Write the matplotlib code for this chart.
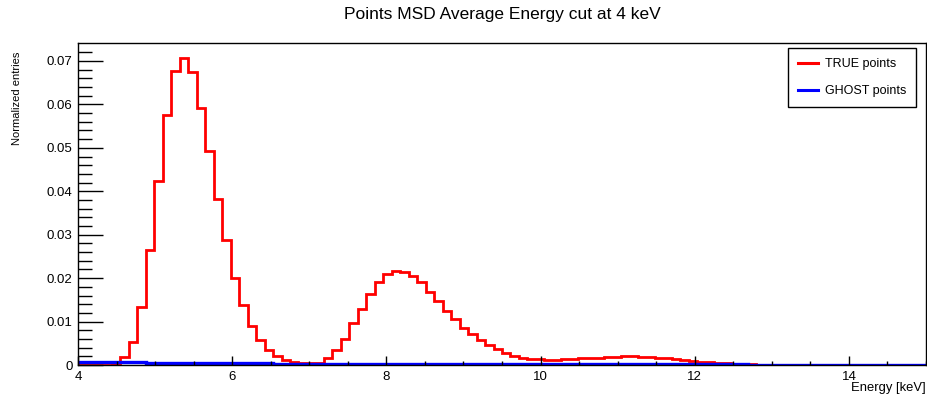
import numpy as np
import matplotlib
matplotlib.use('Agg')
import matplotlib.pyplot as plt
from matplotlib.lines import Line2D

plt.rcParams['font.family'] = ['Liberation Sans', 'DejaVu Sans']

# histogram binning: 100 bins from 4 to 15 keV
e_min, e_max, n_bins = 4.0, 15.0, 100

# TRUE points (normalized entries per bin)
true_vals = [
    0.0, 0.0, 0.0, 0.0001, 0.0003, 0.0018, 0.0053, 0.0134, 0.0264, 0.0424,
    0.0576, 0.0677, 0.0706, 0.0674, 0.0592, 0.0493, 0.0382, 0.0287, 0.0201, 0.0138,
    0.0090, 0.0058, 0.0035, 0.0021, 0.0011, 0.0006, 0.0004, 0.0004, 0.0005, 0.0015,
    0.0034, 0.0061, 0.0096, 0.0130, 0.0164, 0.0190, 0.0209, 0.0216, 0.0214, 0.0206,
    0.0190, 0.0168, 0.0148, 0.0125, 0.0105, 0.0086, 0.0071, 0.0057, 0.0046, 0.0036,
    0.0027, 0.0021, 0.0017, 0.0014, 0.0013, 0.0012, 0.0012, 0.0013, 0.0014, 0.0015,
    0.0016, 0.0017, 0.0018, 0.0019, 0.0020, 0.0020, 0.0019, 0.0018, 0.0017, 0.0015,
    0.0013, 0.0011, 0.0009, 0.0007, 0.0006, 0.0005, 0.0004, 0.0003, 0.0002, 0.0002,
    0.0001, 0.0001, 0.0001, 0.0001, 0.0001, 0.0001, 0.0, 0.0, 0.0, 0.0,
    0.0, 0.0, 0.0, 0.0, 0.0, 0.0, 0.0, 0.0, 0.0, 0.0,
]

# GHOST points
ghost_vals = [
    0.00075, 0.00072, 0.00070, 0.00067, 0.00065, 0.00062, 0.00060, 0.00058, 0.00056, 0.00054,
    0.00052, 0.00050, 0.00048, 0.00047, 0.00045, 0.00044, 0.00042, 0.00041, 0.00040, 0.00038,
    0.00037, 0.00036, 0.00035, 0.00034, 0.00033, 0.00032, 0.00031, 0.00030, 0.00029, 0.00028,
    0.00028, 0.00027, 0.00026, 0.00026, 0.00025, 0.00024, 0.00024, 0.00023, 0.00023, 0.00022,
    0.00022, 0.00021, 0.00021, 0.00020, 0.00020, 0.00020, 0.00019, 0.00019, 0.00019, 0.00018,
    0.00018, 0.00018, 0.00017, 0.00017, 0.00017, 0.00016, 0.00016, 0.00016, 0.00016, 0.00015,
    0.00015, 0.00015, 0.00015, 0.00014, 0.00014, 0.00014, 0.00014, 0.00014, 0.00013, 0.00013,
    0.00013, 0.00013, 0.00013, 0.00012, 0.00012, 0.00012, 0.00012, 0.00012, 0.00012, 0.00011,
    0.00011, 0.00011, 0.00011, 0.00011, 0.00011, 0.00011, 0.00010, 0.00010, 0.00010, 0.00010,
    0.00010, 0.00010, 0.00010, 0.00010, 0.00010, 0.00010, 0.00010, 0.00010, 0.00010, 0.00010,
]

edges = np.linspace(e_min, e_max, n_bins + 1)

fig = plt.figure(figsize=(9.27, 4.01), dpi=100)
ax = fig.add_axes([78 / 927, 36 / 401, 848 / 927, 322 / 401])

ax.stairs(true_vals, edges, color='#ff0000', linewidth=2.0, baseline=None)
ax.stairs(ghost_vals, edges, color='#0000ff', linewidth=2.4, baseline=None)

ax.set_xlim(e_min, e_max)
ax.set_ylim(0, max(true_vals) * 1.05)

ax.set_xticks([4, 6, 8, 10, 12, 14])
ax.set_xticks(np.arange(4, 15.01, 0.5), minor=True)
ax.set_yticks(np.arange(0, 0.0701, 0.01))
ax.set_yticklabels(['0'] + ['%.2f' % v for v in np.arange(0.01, 0.0701, 0.01)])
ax.set_yticks(np.arange(0, 0.074, 0.002), minor=True)

ax.tick_params(axis='y', which='major', direction='in', length=18, width=1, labelsize=9.5, pad=4)
ax.tick_params(axis='y', which='minor', direction='in', length=10, width=1)
ax.tick_params(axis='x', which='major', direction='in', length=6.5, width=1, labelsize=9.5, pad=4)
ax.tick_params(axis='x', which='minor', direction='in', length=3.2, width=1)
for s in ax.spines.values():
    s.set_linewidth(1)

fig.text(502 / 927, 1 - 15 / 401, 'Points MSD Average Energy cut at 4 keV',
         ha='center', va='center', fontsize=12.5)
fig.text(17 / 927, 1 - 52 / 401, 'Normalized entries', rotation=90,
         ha='center', va='top', fontsize=8)
fig.text(926 / 927, 1 - 388 / 401, 'Energy [keV]', ha='right', va='center', fontsize=9.4)

handles = [Line2D([], [], color='#ff0000', lw=2.2),
           Line2D([], [], color='#0000ff', lw=2.2)]
leg = ax.legend(handles, ['TRUE points', 'GHOST points'], loc='upper right',
                bbox_to_anchor=(916 / 927, 1 - 48 / 401), bbox_transform=fig.transFigure,
                fancybox=False, edgecolor='black', framealpha=1, fontsize=9,
                handlelength=1.6, handletextpad=0.5, labelspacing=1.2,
                borderpad=0.8, borderaxespad=0)
leg.get_frame().set_linewidth(1)

fig.savefig('out.png', dpi=100)
